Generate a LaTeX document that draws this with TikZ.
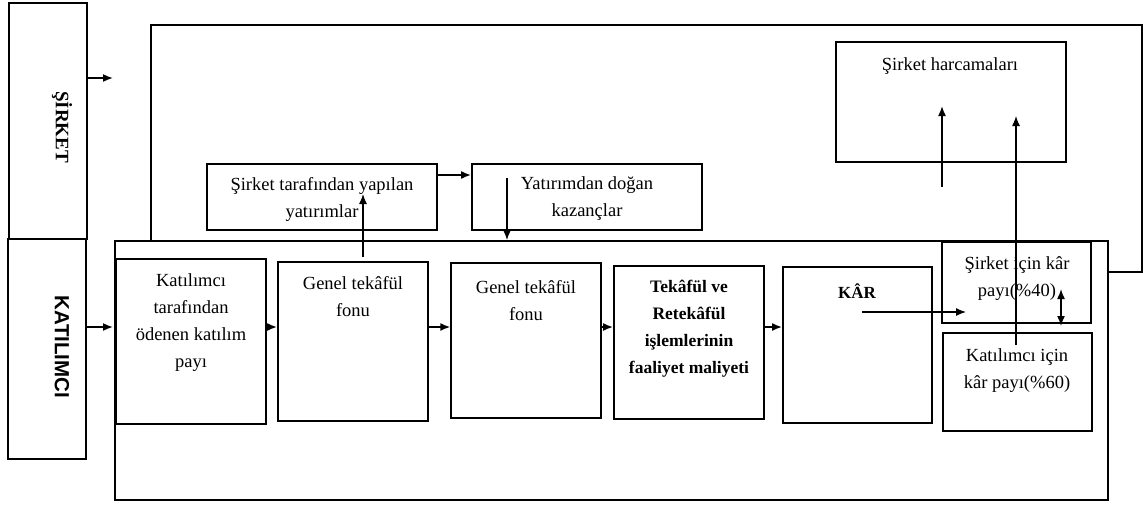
\documentclass[tikz,border=0pt]{standalone}
\usepackage{fontspec}
\setmainfont{Liberation Serif}
\newfontfamily\labelsans{Liberation Sans}
\usetikzlibrary{arrows.meta}
\begin{document}
\begin{tikzpicture}[x=1pt,y=-1pt,
  box/.style={draw, line width=1.9pt, inner sep=0pt},
  thinbox/.style={draw, line width=1.4pt, inner sep=0pt},
  txt/.style={align=center, inner sep=0pt, font=\fontsize{18.5}{27}\selectfont},
  btxt/.style={align=center, inner sep=0pt, font=\fontsize{17.5}{27}\selectfont\bfseries},
  tip/.style={-{Latex[length=10pt,width=8pt]}},
  arr/.style={line width=1.6pt, tip},
  thinarr/.style={line width=1.2pt, tip},
  frame/.style={line width=1.9pt}]
\useasboundingbox (0,0) rectangle (1143,504);

% side boxes
\node[box, minimum width=78pt, minimum height=236pt] (sirket) at (48,121) {};
\node[box, minimum width=78pt, minimum height=220pt] (katilimci) at (47,349) {};
\node[rotate=-90, font=\fontsize{19}{20}\selectfont\bfseries] (sirketlbl) at (62,127) {ŞİRKET};
\node[rotate=-90, font=\labelsans\fontsize{20.5}{22}\selectfont\bfseries] (katlbl) at (62,347) {KATILIMCI};

% upper company frame
\draw[frame] (151,240) -- (151,25) -- (1142,25) -- (1142,272) -- (1108,272);

% participant frame
\node[box, minimum width=993pt, minimum height=259pt] (inner) at (611.5,370.5) {};

% process boxes
\node[box, minimum width=150pt, minimum height=165pt] (b1) at (191,341.5) {};
\node[box, minimum width=150pt, minimum height=159pt] (b2) at (353,341.5) {};
\node[thinbox, minimum width=150pt, minimum height=155pt] (b3) at (526,340.5) {};
\node[box, minimum width=150pt, minimum height=153pt] (b4) at (689,342.5) {};
\node[box, minimum width=149pt, minimum height=156pt] (b5) at (857.5,345) {};
\node[thinbox, minimum width=149pt, minimum height=81pt] (b6) at (1016.5,282.5) {};
\node[thinbox, minimum width=149pt, minimum height=98pt] (b7) at (1017.5,382) {};
\node[thinbox, minimum width=230pt, minimum height=120pt] (harcama) at (951,102) {};
\node[box, minimum width=230pt, minimum height=66pt] (yatirim) at (322,197) {};
\node[box, minimum width=230pt, minimum height=66pt] (kazanc) at (587,197) {};

% labels
\node[txt, anchor=north] (t1) at (191,273) {Katılımcı\\tarafından\\ödenen katılım\\payı};
\node[txt, anchor=north] (t2) at (353,276) {Genel tekâfül\\fonu};
\node[txt, anchor=north] (t3) at (526,280) {Genel tekâfül\\fonu};
\node[btxt, anchor=north] (t4) at (689,280) {Tekâfül ve\\Retekâfül\\işlemlerinin\\faaliyet maliyeti};
\node[txt, font=\fontsize{17}{20}\selectfont\bfseries] (t5) at (857,291) {KÂR};
\node[txt, anchor=north] (t6) at (1017,256) {Şirket için kâr\\payı(\%40)};
\node[txt, anchor=north] (t7) at (1017,348) {Katılımcı için\\kâr payı(\%60)};
\node[txt] (th) at (950,66) {Şirket harcamaları};
\node[txt] (ty) at (322,199) {Şirket tarafından yapılan\\yatırımlar};
\node[txt] (tk) at (587,199) {Yatırımdan doğan\\kazançlar};

% arrow end points
\coordinate (s1) at (113,78);
\coordinate (k1) at (113,327);
\coordinate (row) at (0,327);
\coordinate (yk) at (0,175);
\coordinate (up1a) at (363,257);
\coordinate (up1b) at (363,194);
\coordinate (dn1) at (507,178);
\coordinate (kra) at (862,312);
\coordinate (krb) at (966,312);
\coordinate (dba) at (1061,289);
\coordinate (dbb) at (1061,326);
\coordinate (hua) at (942,187);
\coordinate (hub) at (942,106);
\coordinate (lua) at (1016,345);
\coordinate (lub) at (1016,116);

% connectors
\draw[arr] (s1 -| sirket.east) -- (s1);
\draw[arr] (k1 -| katilimci.east) -- (k1);
\draw[arr] (row -| b1.east) -- (row -| b2.west);
\draw[arr] (row -| b2.east) -- (row -| b3.west);
\draw[arr] (row -| b3.east) -- (row -| b4.west);
\draw[arr] (row -| b4.east) -- (row -| b5.west);
\draw[arr] (yk -| yatirim.east) -- (yk -| kazanc.west);
\draw[thinarr] (up1a) -- (up1b);
\draw[thinarr] (dn1) -- (dn1 |- inner.north);
\draw[thinarr] (kra) -- (krb);
\draw[line width=1.5pt, {Latex[length=10pt,width=8pt]}-{Latex[length=10pt,width=8pt]}] (dba) -- (dbb);
\draw[arr] (hua) -- (hub);
\draw[thinarr] (lua) -- (lub);
\end{tikzpicture}
\end{document}
